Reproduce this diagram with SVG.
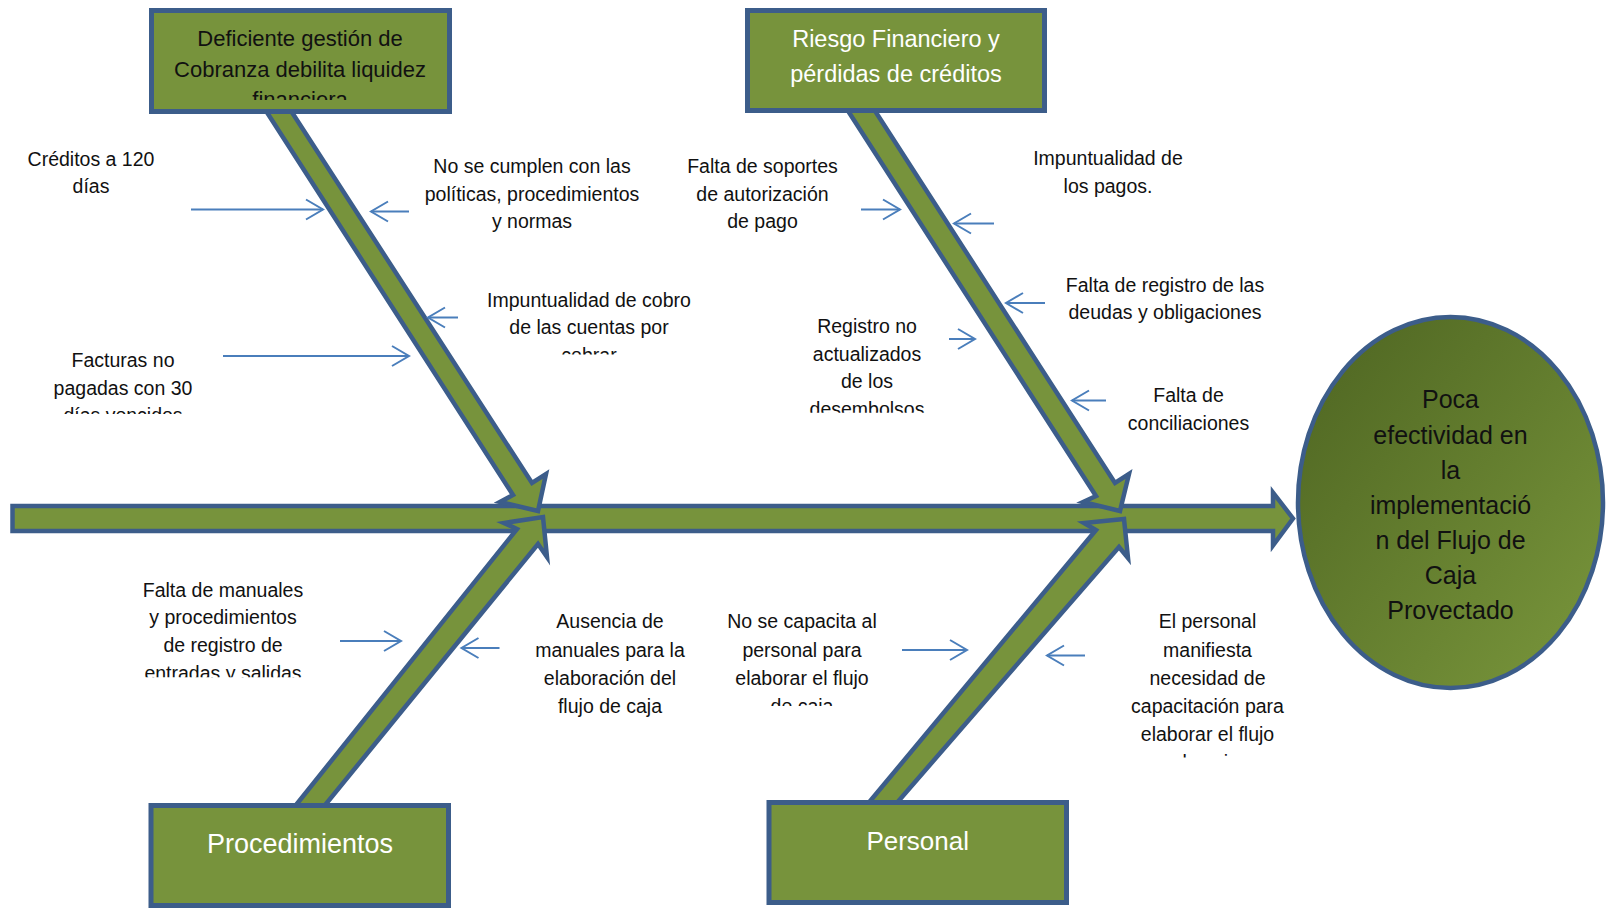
<svg xmlns="http://www.w3.org/2000/svg" width="1606" height="908" viewBox="0 0 1606 908">
<style>
.bone{fill:#77933C;stroke:#3C5D8A;stroke-width:4.5;stroke-linejoin:miter;stroke-miterlimit:10}
.box{fill:#77933C;stroke:#3C5D8A;stroke-width:5}
.c{stroke:#4A7EBB;stroke-width:2;fill:none}
.t{font-family:"Liberation Sans",Arial,sans-serif;font-size:19.5px;fill:#111;text-anchor:middle}
.bt{font-family:"Liberation Sans",Arial,sans-serif;fill:#111;text-anchor:middle}
.wt{font-family:"Liberation Sans",Arial,sans-serif;fill:#FFFFFF;text-anchor:middle}
</style>
<defs>
<marker id="ah" markerUnits="userSpaceOnUse" viewBox="-20 -12 22 24" refX="0" refY="0" markerWidth="22" markerHeight="24" orient="auto" overflow="visible">
<path d="M-17,-10 L0,0 L-17,10" fill="none" stroke="#4A7EBB" stroke-width="2"/>
</marker>
<linearGradient id="eg" x1="0" y1="0" x2="1" y2="1">
<stop offset="0" stop-color="#4D6421"/>
<stop offset="1" stop-color="#7A973C"/>
</linearGradient>
<clipPath id="cTL"><rect x="150" y="10" width="302" height="90"/></clipPath>
<clipPath id="cC"><rect x="450" y="280" width="280" height="74.5"/></clipPath>
<clipPath id="cD"><rect x="20" y="340" width="220" height="74"/></clipPath>
<clipPath id="cH"><rect x="780" y="305" width="180" height="107.7"/></clipPath>
<clipPath id="cJ"><rect x="120" y="570" width="210" height="107.3"/></clipPath>
<clipPath id="cL"><rect x="700" y="600" width="210" height="106"/></clipPath>
<clipPath id="cM"><rect x="1100" y="600" width="220" height="157.5"/></clipPath>
<clipPath id="cE"><rect x="1300" y="370" width="300" height="250"/></clipPath>
</defs>
<rect width="1606" height="908" fill="#FFFFFF"/>
<g id="connectors">
<polygon id="spine" class="bone" points="12.5,506 1273,506 1273,492.5 1293,518.5 1273,545.5 1273,531 12.5,531"/>
<polygon id="bone-tl" class="bone" points="259,100 284,100 532,483 546,474 538,511 500,502 513,495"/>
<polygon id="bone-tr" class="bone" points="841,100 868,100 1115,483 1129,474 1120,511 1083,502 1096,496"/>
<polygon id="bone-ll" class="bone" points="288,815 517,529 504,523 543,517 547,557 538,544 317,815"/>
<polygon id="bone-lr" class="bone" points="861,812 1096,530 1084,523 1124,519 1128,558 1119,547 889,812"/>
<line class="c" x1="191" y1="209.5" x2="323" y2="209.5" marker-end="url(#ah)"/>
<line class="c" x1="409" y1="211.5" x2="371" y2="211.5" marker-end="url(#ah)"/>
<line class="c" x1="458" y1="317.5" x2="428" y2="317.5" marker-end="url(#ah)"/>
<line class="c" x1="223" y1="356" x2="409" y2="356" marker-end="url(#ah)"/>
<line class="c" x1="861" y1="209.5" x2="900" y2="209.5" marker-end="url(#ah)"/>
<line class="c" x1="994" y1="223.5" x2="954" y2="223.5" marker-end="url(#ah)"/>
<line class="c" x1="1045" y1="303" x2="1006" y2="303" marker-end="url(#ah)"/>
<line class="c" x1="949" y1="339" x2="975" y2="339" marker-end="url(#ah)"/>
<line class="c" x1="1106" y1="400.5" x2="1072" y2="400.5" marker-end="url(#ah)"/>
<line class="c" x1="340" y1="641" x2="401" y2="641" marker-end="url(#ah)"/>
<line class="c" x1="499.5" y1="648" x2="461.5" y2="648" marker-end="url(#ah)"/>
<line class="c" x1="902" y1="650" x2="967" y2="650" marker-end="url(#ah)"/>
<line class="c" x1="1085" y1="655.5" x2="1047" y2="655.5" marker-end="url(#ah)"/>
</g>
<g id="cat-cobranza">
<rect class="box" x="151.5" y="10.5" width="298" height="101"/>
<text class="bt" font-size="22" clip-path="url(#cTL)"><tspan x="300" y="46">Deficiente gestión de</tspan><tspan x="300" y="76.7">Cobranza debilita liquidez</tspan><tspan x="300" y="107.4">financiera</tspan></text>
</g>
<g id="cat-riesgo">
<rect class="box" x="747.5" y="10.5" width="297" height="100"/>
<text class="wt" font-size="23.5"><tspan x="896" y="47.3">Riesgo Financiero y</tspan><tspan x="896" y="81.7">pérdidas de créditos</tspan></text>
</g>
<g id="cat-procedimientos">
<rect class="box" x="151" y="805.5" width="297.5" height="100"/>
<text class="wt" font-size="27" x="300" y="853.3">Procedimientos</text>
</g>
<g id="cat-personal">
<rect class="box" x="769" y="802.5" width="297.5" height="100"/>
<text class="wt" font-size="26" x="917.7" y="850">Personal</text>
</g>
<g id="effect">
<ellipse cx="1450.5" cy="502.5" rx="152.5" ry="185.5" fill="url(#eg)" stroke="#3C5D8A" stroke-width="4.5"/>
<text class="bt" font-size="25" clip-path="url(#cE)"><tspan x="1450.5" y="408.3">Poca</tspan><tspan x="1450.5" y="443.5">efectividad en</tspan><tspan x="1450.5" y="478.6">la</tspan><tspan x="1450.5" y="513.8">implementació</tspan><tspan x="1450.5" y="549">n del Flujo de</tspan><tspan x="1450.5" y="584.2">Caja</tspan><tspan x="1450.5" y="619.3">Proyectado</tspan></text>
</g>
<g id="cause-creditos">
<text class="t"><tspan x="91" y="165.7">Créditos a 120</tspan><tspan x="91" y="193.3">días</tspan></text>
</g>
<g id="cause-politicas">
<text class="t"><tspan x="532" y="173">No se cumplen con las</tspan><tspan x="532" y="200.5">políticas, procedimientos</tspan><tspan x="532" y="228">y normas</tspan></text>
</g>
<g id="cause-impuntualidad-cobro">
<text class="t" clip-path="url(#cC)"><tspan x="589" y="306.7">Impuntualidad de cobro</tspan><tspan x="589" y="334.3">de las cuentas por</tspan><tspan x="589" y="362">cobrar</tspan></text>
</g>
<g id="cause-facturas">
<text class="t" clip-path="url(#cD)"><tspan x="123" y="366.7">Facturas no</tspan><tspan x="123" y="394.5">pagadas con 30</tspan><tspan x="123" y="422.3">días vencidos</tspan></text>
</g>
<g id="cause-soportes">
<text class="t"><tspan x="762.5" y="173.3">Falta de soportes</tspan><tspan x="762.5" y="200.8">de autorización</tspan><tspan x="762.5" y="228.3">de pago</tspan></text>
</g>
<g id="cause-impuntualidad-pagos">
<text class="t"><tspan x="1108" y="165">Impuntualidad de</tspan><tspan x="1108" y="192.7">los pagos.</tspan></text>
</g>
<g id="cause-registro-deudas">
<text class="t"><tspan x="1165" y="291.7">Falta de registro de las</tspan><tspan x="1165" y="319">deudas y obligaciones</tspan></text>
</g>
<g id="cause-registro-desembolsos">
<text class="t" clip-path="url(#cH)"><tspan x="867" y="332.7">Registro no</tspan><tspan x="867" y="360.5">actualizados</tspan><tspan x="867" y="388.3">de los</tspan><tspan x="867" y="416.1">desembolsos</tspan></text>
</g>
<g id="cause-conciliaciones">
<text class="t"><tspan x="1188.5" y="402.3">Falta de</tspan><tspan x="1188.5" y="430">conciliaciones</tspan></text>
</g>
<g id="cause-manuales-registro">
<text class="t" clip-path="url(#cJ)"><tspan x="223" y="596.7">Falta de manuales</tspan><tspan x="223" y="624.4">y procedimientos</tspan><tspan x="223" y="652.1">de registro de</tspan><tspan x="223" y="679.8">entradas y salidas</tspan></text>
</g>
<g id="cause-ausencia-manuales">
<text class="t"><tspan x="610" y="628.3">Ausencia de</tspan><tspan x="610" y="656.5">manuales para la</tspan><tspan x="610" y="684.7">elaboración del</tspan><tspan x="610" y="712.8">flujo de caja</tspan></text>
</g>
<g id="cause-capacita">
<text class="t" clip-path="url(#cL)"><tspan x="802" y="628.3">No se capacita al</tspan><tspan x="802" y="656.5">personal para</tspan><tspan x="802" y="684.7">elaborar el flujo</tspan><tspan x="802" y="712.9">de caja</tspan></text>
</g>
<g id="cause-necesidad">
<text class="t" clip-path="url(#cM)"><tspan x="1207.5" y="628.3">El personal</tspan><tspan x="1207.5" y="656.5">manifiesta</tspan><tspan x="1207.5" y="684.7">necesidad de</tspan><tspan x="1207.5" y="712.9">capacitación para</tspan><tspan x="1207.5" y="741.1">elaborar el flujo</tspan><tspan x="1207.5" y="769.3">de caja</tspan></text>
</g>
</svg>
